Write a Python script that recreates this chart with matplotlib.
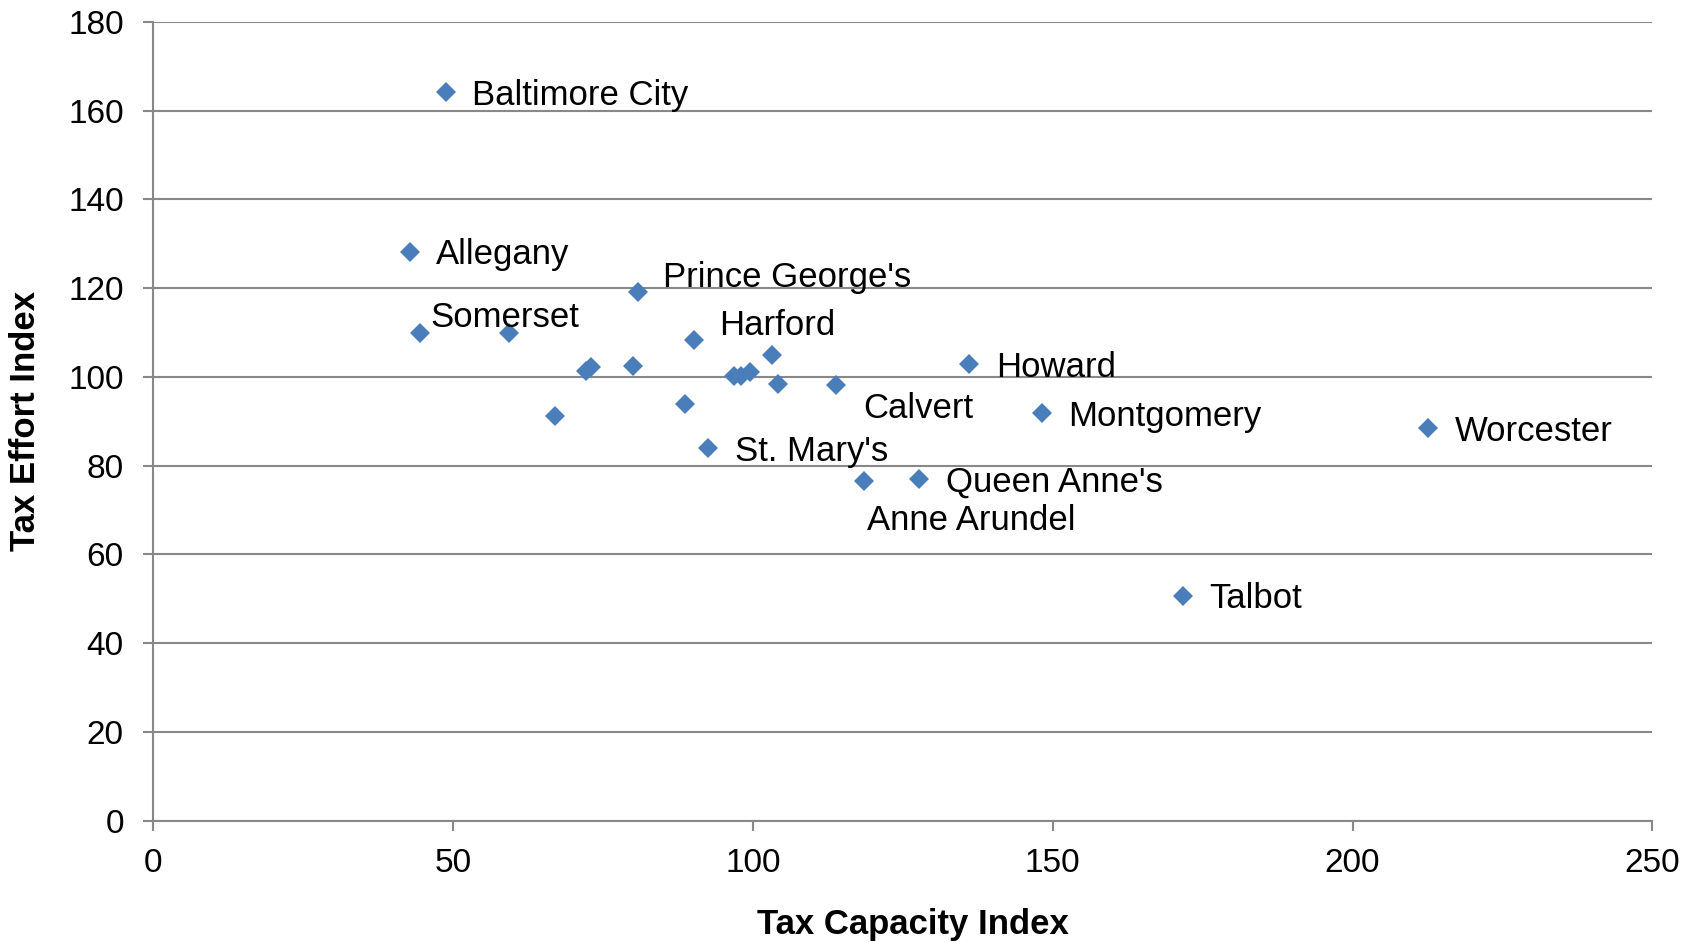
import matplotlib.pyplot as plt

# Tax capacity vs tax effort, Maryland jurisdictions
capacity = [48.8, 42.8, 44.6, 59.3, 80.8, 90.2, 103.2, 136.1, 72.2, 73.0,
            80.0, 96.8, 98.0, 99.6, 104.2, 113.8, 67.0, 88.7, 148.2, 212.6,
            92.6, 118.6, 127.8, 171.7]
effort = [164.1, 128.2, 109.9, 109.9, 119.2, 108.4, 104.9, 102.8, 101.4, 102.3,
          102.4, 100.2, 100.2, 101.1, 98.4, 98.2, 91.1, 94.0, 91.8, 88.4,
          83.9, 76.5, 76.9, 50.6]
names = ["Baltimore City", "Allegany", "Somerset", "", "Prince George's", "Harford",
         "", "Howard", "", "", "", "", "", "", "", "Calvert", "", "", "Montgomery",
         "Worcester", "St. Mary's", "Anne Arundel", "Queen Anne's", "Talbot"]

# label offsets in points (dx, dy), default is right of the marker
offsets = {"Somerset": (7, 11), "Prince George's": (18, 10), "Harford": (18, 10),
           "Calvert": (20, -17), "Anne Arundel": (2, -28)}

plt.rcParams['font.family'] = ['Liberation Sans', 'DejaVu Sans']

fig = plt.figure(figsize=(17, 9.42), dpi=100)
ax = fig.add_axes([0.09, 0.1288, 0.882, 0.848])

ax.plot(capacity, effort, 'D', color='#4a7ebb', markersize=10.5,
        markeredgewidth=0, zorder=3, clip_on=False)

for x, y, name in zip(capacity, effort, names):
    if not name:
        continue
    dx, dy = offsets.get(name, (19, -2))
    ax.annotate(name, (x, y), textcoords='offset points', xytext=(dx, dy),
                ha='left', va='center', fontsize=25)

ax.set_xlim(0, 250)
ax.set_ylim(0, 180)
ax.set_xticks(range(0, 251, 50))
ax.set_yticks(range(0, 181, 20))
ax.tick_params(labelsize=24, colors='#888888', labelcolor='black', length=7, width=1.5)
ax.tick_params(axis='y', pad=14)
ax.tick_params(axis='x', pad=13)
ax.grid(axis='y', color='#888888', lw=1.5)
ax.set_axisbelow(True)
for s in ['top', 'right']:
    ax.spines[s].set_visible(False)
for s in ['left', 'bottom']:
    ax.spines[s].set_color('#888888')
    ax.spines[s].set_linewidth(1.5)

ax.set_xlabel('Tax Capacity Index', fontsize=25, fontweight='bold')
ax.xaxis.set_label_coords(0.507, -0.109, transform=ax.transAxes)
ax.xaxis.label.set_va('top')
ax.set_ylabel('Tax Effort Index', fontsize=25, fontweight='bold')
ax.yaxis.set_label_coords(-0.074, 0.5, transform=ax.transAxes)

fig.savefig('out.png', dpi=100)
